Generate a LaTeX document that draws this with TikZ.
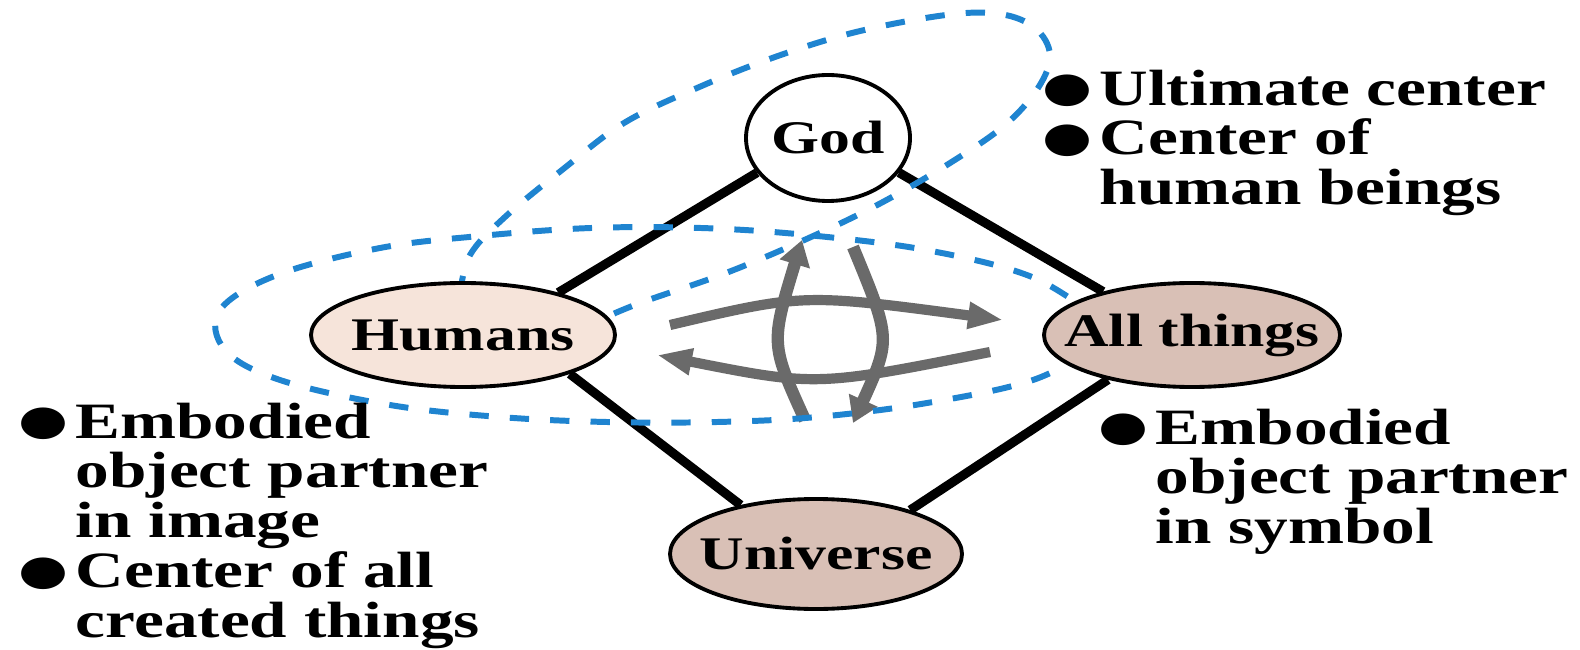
\documentclass[tikz,border=0pt]{standalone}
\usepackage{fontspec}
\setmainfont[FakeStretch=1.32]{Liberation Serif}
\newfontfamily\dotfont[FakeStretch=1.38]{DejaVu Sans}
\usetikzlibrary{shapes.geometric,arrows.meta,backgrounds}

\definecolor{loopblue}{HTML}{1F84D0}
\definecolor{arrowgray}{HTML}{6A6A6A}
\definecolor{humanfill}{HTML}{F6E4DA}
\definecolor{thingfill}{HTML}{D9C0B6}

\newcommand{\bul}{\raisebox{1pt}{\dotfont\fontsize{11.8}{10}\selectfont ●}\hspace{2pt}}
\newcommand{\ind}{\hphantom{\bul}}
\newcommand{\ctr}[1]{\makebox[0pt]{#1}}

\begin{document}
\begin{tikzpicture}[
    blob/.style={ellipse, draw, line width=1.1pt, inner sep=0pt,
      font=\fontsize{13.3}{15}\selectfont\bfseries},
    note/.style={align=left, inner sep=0pt, anchor=north west,
      font=\fontsize{14.5}{14.2}\selectfont\bfseries},
    edge/.style={line width=2.6pt},
    hturn/.style={arrowgray, line width=2.9pt, -{Triangle[length=0.35cm, width=0.25cm]}},
    vturn/.style={arrowgray, line width=3.5pt, -{Triangle[length=0.25cm, width=0.3cm]}},
    loop/.style={loopblue, line width=1.7pt, dash pattern=on 5.5pt off 6pt}]
  \useasboundingbox (0,0) rectangle (15.8,-6.5);

  % the four centres
  \node[blob, fill=white, minimum width=1.64cm, minimum height=1.26cm] (god) at (8.28,-1.38) {\ctr{God}};
  \node[blob, fill=humanfill, minimum width=3.04cm, minimum height=1.04cm] (hum) at (4.63,-3.35) {\ctr{Humans}};
  \node[blob, fill=thingfill, minimum width=2.96cm, minimum height=1.04cm] (all) at (11.92,-3.35) {\ctr{All things}};
  \node[blob, fill=thingfill, minimum width=2.92cm, minimum height=1.10cm] (uni) at (8.16,-5.54) {\ctr{Universe}};

  % notes
  \node[note] (godnote) at (10.42,-0.69) {\bul Ultimate center\\ \bul Center of\\ \ind human beings};
  \node[note] (humnote) at (0.18,-4.02) {\bul Embodied\\ \ind object partner\\ \ind in image\\
    \bul Center of all\\ \ind created things};
  \node[note] (allnote) at (10.98,-4.08) {\bul Embodied\\ \ind object partner\\ \ind in symbol};

  % ends of the exchange arrows
  \coordinate (r0) at (6.70,-3.25);  \coordinate (r1) at (10.03,-3.20);
  \coordinate (l0) at (9.90,-3.52);  \coordinate (l1) at (6.57,-3.55);
  \coordinate (u0) at (8.05,-4.20);  \coordinate (u1) at (8.02,-2.40);
  \coordinate (d0) at (8.53,-2.47);  \coordinate (d1) at (8.53,-4.23);

  \begin{pgfonlayer}{background}
    \draw[edge] (god.206) -- (hum.24);
    \draw[edge] (god.334) -- (all.154);
    \draw[edge] (hum.-20) -- (uni.147);
    \draw[edge] (all.208) -- (uni.25);

    \draw[hturn] (r0) .. controls (8.035,-2.935) .. (r1);
    \draw[hturn] (l0) .. controls (8.165,-3.865) .. (l1);
    \draw[vturn] (u0) .. controls (7.705,-3.44) .. (u1);
    \draw[vturn] (d0) .. controls (8.91,-3.39) .. (d1);

    % loop round God
    \draw[loop] plot[smooth, tension=0.6] coordinates {(4.60,-2.95) (4.70,-2.55) (5.05,-2.17)
      (5.62,-1.70) (6.24,-1.23) (6.97,-0.88) (7.75,-0.57) (8.56,-0.32) (9.46,-0.15)
      (10.00,-0.14) (10.35,-0.28) (10.50,-0.55) (10.38,-0.88) (10.05,-1.25) (9.50,-1.63)
      (8.81,-2.03) (8.11,-2.37) (7.26,-2.73) (6.40,-3.03) (5.95,-3.22)};
    % loop round Humans
    \draw[loop] plot[smooth, tension=0.6] coordinates {(11.0,-3.2) (10.32,-2.77) (9.26,-2.50)
      (8.07,-2.35) (7.01,-2.28) (5.91,-2.28) (4.80,-2.36) (3.80,-2.48) (2.77,-2.75)
      (2.20,-3.10) (2.25,-3.50) (2.80,-3.80) (3.90,-4.05) (5.00,-4.17) (6.07,-4.22)
      (7.17,-4.22) (8.17,-4.17) (9.27,-4.03) (10.33,-3.80) (11.0,-3.45)};
  \end{pgfonlayer}
\end{tikzpicture}
\end{document}
